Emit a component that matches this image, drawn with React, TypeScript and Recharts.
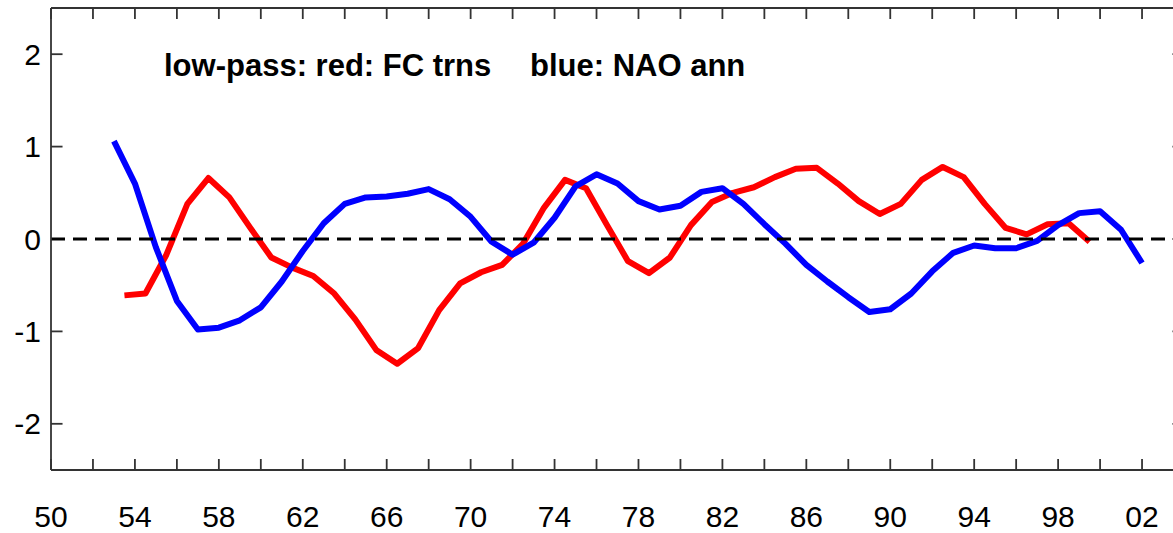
import React from "react"
import { LineChart, Line, XAxis, YAxis, ReferenceLine, Customized } from "recharts"

// NAO annual index, low-pass (blue), one value per year from 1953
const naoStart = 1953
const naoValues = [
  1.06, 0.6, -0.09, -0.67, -0.98, -0.96, -0.88, -0.74, -0.46, -0.13,
  0.17, 0.38, 0.45, 0.46, 0.49, 0.54, 0.43, 0.24, -0.03, -0.17,
  -0.04, 0.23, 0.57, 0.7, 0.6, 0.41, 0.32, 0.36, 0.51, 0.55,
  0.38, 0.16, -0.05, -0.28, -0.46, -0.63, -0.79, -0.76, -0.59, -0.35,
  -0.15, -0.07, -0.1, -0.1, -0.02, 0.15, 0.28, 0.3, 0.1, -0.26,
]

// FC transport, low-pass (red), winter values centred on mid-year from 1953.5
const fcStart = 1953.5
const fcValues = [
  -0.61, -0.59, -0.17, 0.38, 0.66, 0.45, 0.12, -0.2, -0.31, -0.4,
  -0.59, -0.87, -1.2, -1.35, -1.18, -0.77, -0.48, -0.36, -0.28, -0.05,
  0.34, 0.64, 0.55, 0.15, -0.24, -0.37, -0.2, 0.15, 0.4, 0.5,
  0.56, 0.67, 0.76, 0.77, 0.6, 0.41, 0.27, 0.38, 0.64, 0.78,
  0.67, 0.38, 0.12, 0.05, 0.16, 0.17, -0.03,
]

const yearTicks = [
  1950, 1952, 1954, 1956, 1958, 1960, 1962, 1964, 1966, 1968, 1970, 1972, 1974, 1976,
  1978, 1980, 1982, 1984, 1986, 1988, 1990, 1992, 1994, 1996, 1998, 2000, 2002, 2004,
]
const labeledYears = [1950, 1954, 1958, 1962, 1966, 1970, 1974, 1978, 1982, 1986, 1990, 1994, 1998, 2002]
const yearLabelText = ["50", "54", "58", "62", "66", "70", "74", "78", "82", "86", "90", "94", "98", "02"]
const valueTicks = [-2, -1, 0, 1, 2]

const xMin = 1950
const xMax = 2004
const tickLen = 0.55 // inward y-tick length, in years

const naoData = naoValues.map((v, i) => ({ year: naoStart + i, value: v }))
const fcData = fcValues.map((v, i) => ({ year: fcStart + i, value: v }))

// short inward tick marks on the left and right frame, one tiny series each
const yTickMarks = valueTicks.flatMap((v) => [
  [{ year: xMin, value: v }, { year: xMin + tickLen, value: v }],
  [{ year: xMax - tickLen, value: v }, { year: xMax, value: v }],
])

const font = '"Liberation Sans", Arial, Helvetica, sans-serif'
const axisColor = "#333"
const tickLineStyle = { stroke: axisColor, strokeWidth: 1.8 }

function yearLabel(y: number) {
  const i = labeledYears.indexOf(y)
  return i >= 0 ? yearLabelText[i] : ""
}

function Title() {
  return (
    <text y={76} fontSize={31} fontWeight="bold" fontFamily={font} fill="#000">
      <tspan x={164}>low-pass: red: FC trns</tspan>
      <tspan x={530}>blue: NAO ann</tspan>
    </text>
  )
}

export default function App() {
  return (
    <div style={{ position: "absolute", left: 0, top: 0, width: 1173, height: 533, overflow: "hidden", background: "#fff" }}>
      <LineChart width={1190} height={533} margin={{ top: 7, right: 6, bottom: 0, left: 0 }}>
        <XAxis
          dataKey="year"
          type="number"
          domain={[xMin, xMax]}
          ticks={yearTicks}
          interval={0}
          allowDataOverflow
          height={63}
          tickSize={-11}
          tickMargin={47}
          tickFormatter={yearLabel}
          stroke={axisColor}
          strokeWidth={1.8}
          tickLine={tickLineStyle}
          tick={{ fill: "#000", fontSize: 30, fontFamily: font }}
        />
        <XAxis
          xAxisId="top"
          orientation="top"
          dataKey="year"
          type="number"
          domain={[xMin, xMax]}
          ticks={yearTicks}
          interval={0}
          allowDataOverflow
          height={1}
          tickSize={-11}
          tickMargin={0}
          tickFormatter={() => ""}
          stroke={axisColor}
          strokeWidth={1.8}
          tickLine={tickLineStyle}
        />
        <YAxis
          type="number"
          domain={[-2.5, 2.5]}
          ticks={valueTicks}
          interval={0}
          allowDataOverflow
          width={51}
          tickSize={0}
          tickLine={false}
          tickMargin={10}
          stroke={axisColor}
          strokeWidth={1.8}
          tick={{ fill: "#000", fontSize: 30, fontFamily: font }}
        />
        {yTickMarks.map((seg, i) => (
          <Line
            key={"tick" + i}
            data={seg}
            dataKey="value"
            type="linear"
            stroke={axisColor}
            strokeWidth={1.8}
            dot={false}
            activeDot={false}
            legendType="none"
            isAnimationActive={false}
          />
        ))}
        <Line
          data={fcData}
          dataKey="value"
          type="linear"
          stroke="#f00"
          strokeWidth={6}
          strokeLinejoin="round"
          dot={false}
          isAnimationActive={false}
        />
        <Line
          data={naoData}
          dataKey="value"
          type="linear"
          stroke="#00f"
          strokeWidth={6}
          strokeLinejoin="round"
          dot={false}
          isAnimationActive={false}
        />
        <ReferenceLine y={0} stroke="#000" strokeWidth={3} strokeDasharray="14 8" />
        <Customized component={<Title />} />
      </LineChart>
    </div>
  )
}
